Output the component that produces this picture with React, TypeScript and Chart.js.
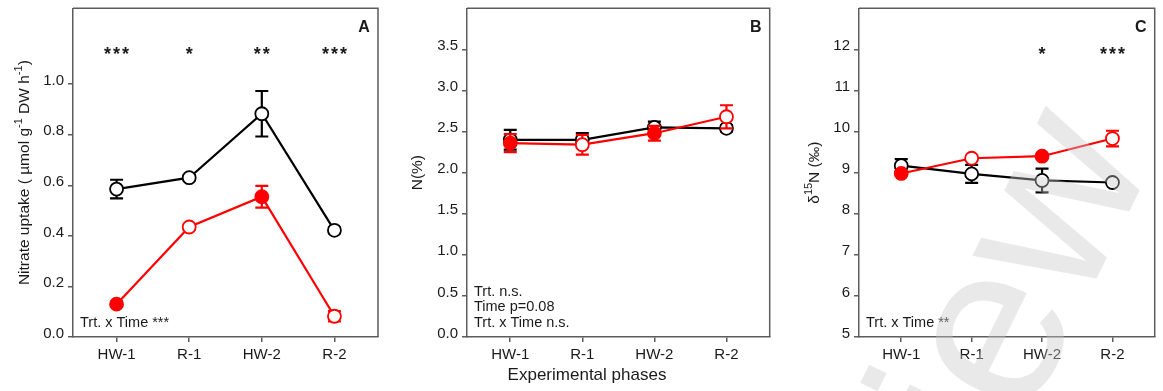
import React, { useEffect, useRef } from "react";
import { Chart, registerables } from "chart.js";

Chart.register(...registerables);

const categories = ["HW-1", "R-1", "HW-2", "R-2"];
const heatFilled = [true, false, true, false];

// Panel A: nitrate uptake
const uptakeControl = [0.585, 0.63, 0.883, 0.422];
const uptakeControlErr = [0.037, 0.01, 0.09, 0.012];
const uptakeHeat = [0.13, 0.435, 0.555, 0.082];
const uptakeHeatErr = [0.01, 0.01, 0.043, 0.02];
const uptakeStars = ["***", "*", "**", "***"];
const uptakeTicks = [0, 0.2, 0.4, 0.6, 0.8, 1.0];

// Panel B: N (%)
const nControl = [2.4, 2.4, 2.55, 2.54];
const nControlErr = [0.12, 0.08, 0.07, 0.04];
const nHeat = [2.36, 2.34, 2.48, 2.68];
const nHeatErr = [0.11, 0.12, 0.09, 0.14];
const nStars = ["", "", "", ""];
const nTicks = [0, 0.5, 1.0, 1.5, 2.0, 2.5, 3.0, 3.5];

// Panel C: delta 15N
const d15Control = [9.17, 8.97, 8.81, 8.76];
const d15ControlErr = [0.16, 0.22, 0.29, 0.04];
const d15Heat = [8.98, 9.35, 9.4, 9.83];
const d15HeatErr = [0.05, 0.06, 0.05, 0.19];
const d15Stars = ["", "", "*", "***"];
const d15Ticks = [5, 6, 7, 8, 9, 10, 11, 12];

const FONT = '"Liberation Sans", Arial, Helvetica, sans-serif';
const AXIS = "#5c5c5c";
const TEXT = "#1a1a1a";
const RED = "#ff0000";

type Part = { t: string; sup?: boolean };

type Panel = {
  left: number;
  width: number;
  yMin: number;
  yMax: number;
  yTicks: number[];
  decimals: number;
  control: number[];
  controlErr: number[];
  heat: number[];
  heatErr: number[];
  stars: string[];
  yTitle: Part[];
  titleX: number;
  axisWidth: number;
  rightPad: number;
  letter: string;
  notes: string[];
  xTitle?: string;
  watermark?: boolean;
};

const panels: Panel[] = [
  {
    left: 0, width: 388, yMin: 0, yMax: 1.3, yTicks: uptakeTicks, decimals: 1,
    control: uptakeControl, controlErr: uptakeControlErr, heat: uptakeHeat, heatErr: uptakeHeatErr,
    stars: uptakeStars,
    yTitle: [{ t: "Nitrate uptake ( µmol g" }, { t: "-1", sup: true }, { t: " DW h" }, { t: "-1", sup: true }, { t: ")" }],
    titleX: 23, axisWidth: 73, rightPad: 10, letter: "A", notes: ["Trt. x Time ***"],
  },
  {
    left: 388, width: 390, yMin: 0, yMax: 4, yTicks: nTicks, decimals: 1,
    control: nControl, controlErr: nControlErr, heat: nHeat, heatErr: nHeatErr,
    stars: nStars,
    yTitle: [{ t: "N(%)" }],
    titleX: 28, axisWidth: 79, rightPad: 7, letter: "B",
    notes: ["Trt. n.s.", "Time p=0.08", "Trt. x Time n.s."],
    xTitle: "Experimental phases",
  },
  {
    left: 778, width: 385, yMin: 5, yMax: 13, yTicks: d15Ticks, decimals: 0,
    control: d15Control, controlErr: d15ControlErr, heat: d15Heat, heatErr: d15HeatErr,
    stars: d15Stars,
    yTitle: [{ t: "δ" }, { t: "15", sup: true }, { t: "N (‰)" }],
    titleX: 35, axisWidth: 81, rightPad: 2, letter: "C", notes: ["Trt. x Time **"],
    watermark: true,
  },
];

const errorBarPlugin = {
  id: "errorBars",
  beforeDatasetDraw(chart: any, args: any) {
    const ds = chart.data.datasets[args.index];
    const errs: number[] | undefined = ds.errors;
    if (!errs) return;
    const xs = chart.scales.x;
    const ys = chart.scales.y;
    const ctx = chart.ctx;
    ctx.save();
    ctx.strokeStyle = ds.borderColor;
    ctx.lineWidth = 2.2;
    ds.data.forEach((pt: any, i: number) => {
      const px = xs.getPixelForValue(pt.x);
      const top = ys.getPixelForValue(pt.y + errs[i]);
      const bot = ys.getPixelForValue(pt.y - errs[i]);
      ctx.beginPath();
      ctx.moveTo(px, top);
      ctx.lineTo(px, bot);
      ctx.moveTo(px - 6.5, top);
      ctx.lineTo(px + 6.5, top);
      ctx.moveTo(px - 6.5, bot);
      ctx.lineTo(px + 6.5, bot);
      ctx.stroke();
    });
    ctx.restore();
  },
};

function drawRotatedTitle(ctx: CanvasRenderingContext2D, parts: Part[], cx: number, cy: number, size: number) {
  const base = `${size}px ${FONT}`;
  const small = `${Math.round(size * 0.68)}px ${FONT}`;
  ctx.save();
  ctx.translate(cx, cy);
  ctx.rotate(-Math.PI / 2);
  let total = 0;
  const widths = parts.map((p) => {
    ctx.font = p.sup ? small : base;
    const w = ctx.measureText(p.t).width;
    total += w;
    return w;
  });
  let x = -total / 2;
  const baseline = size * 0.36;
  ctx.fillStyle = TEXT;
  ctx.textBaseline = "alphabetic";
  ctx.textAlign = "left";
  parts.forEach((p, i) => {
    ctx.font = p.sup ? small : base;
    ctx.fillText(p.t, x, p.sup ? baseline - size * 0.42 : baseline);
    x += widths[i];
  });
  ctx.restore();
}

function makeDecorPlugin(p: Panel) {
  return {
    id: "decor" + p.letter,
    afterDatasetsDraw(chart: any) {
      const ctx: CanvasRenderingContext2D = chart.ctx;
      const area = chart.chartArea;
      const xs = chart.scales.x;
      ctx.save();
      // top and right frame
      ctx.strokeStyle = AXIS;
      ctx.lineWidth = 1.5;
      ctx.beginPath();
      ctx.moveTo(area.left, area.top);
      ctx.lineTo(area.right, area.top);
      ctx.lineTo(area.right, area.bottom);
      ctx.stroke();

      // significance stars
      ctx.fillStyle = TEXT;
      ctx.font = `bold 18px ${FONT}`;
      ctx.textAlign = "center";
      ctx.textBaseline = "alphabetic";
      (ctx as any).letterSpacing = "2px";
      p.stars.forEach((s, i) => {
        if (!s) return;
        ctx.fillText(s, xs.getPixelForValue(i + 1) + 1, 60);
      });
      (ctx as any).letterSpacing = "0px";

      // panel letter
      ctx.font = `bold 16px ${FONT}`;
      ctx.fillText(p.letter, area.right - 14, 32);

      // statistics notes
      ctx.font = `14.5px ${FONT}`;
      ctx.textAlign = "left";
      const n = p.notes.length;
      p.notes.forEach((line, i) => {
        ctx.fillText(line, area.left + 7, area.bottom - 10.5 - (n - 1 - i) * 15.5);
      });

      // y title
      drawRotatedTitle(ctx, p.yTitle, p.titleX, (area.top + area.bottom) / 2, 15.5);

      // x title
      if (p.xTitle) {
        ctx.fillStyle = TEXT;
        ctx.font = `17px ${FONT}`;
        ctx.textAlign = "center";
        ctx.fillText(p.xTitle, 587 - p.left, 380);
      }
      ctx.restore();
    },
    afterDraw(chart: any) {
      if (!p.watermark) return;
      const ctx: CanvasRenderingContext2D = chart.ctx;
      ctx.save();
      ctx.fillStyle = "rgba(200,200,200,0.4)";
      ctx.font = `230px ${FONT}`;
      ctx.translate(1000 - p.left, 340);
      ctx.rotate((-64 * Math.PI) / 180);
      const word = "review";
      const pre = ctx.measureText("revi").width;
      const we = ctx.measureText("e").width;
      ctx.textBaseline = "alphabetic";
      ctx.textAlign = "left";
      ctx.fillText(word, -(pre + we / 2), 230 * 0.26);
      ctx.restore();
    },
  };
}

function toPoints(vals: number[]) {
  return vals.map((v, i) => ({ x: i + 1, y: v }));
}

function buildConfig(p: Panel): any {
  const tickFont = { family: FONT, size: 15 };
  return {
    type: "line",
    data: {
      datasets: [
        {
          label: "Heat",
          data: toPoints(p.heat),
          errors: p.heatErr,
          borderColor: RED,
          borderWidth: 2.2,
          pointRadius: 6.5,
          pointHoverRadius: 6.5,
          pointBorderWidth: 1.8,
          pointBorderColor: RED,
          pointBackgroundColor: heatFilled.map((f) => (f ? RED : "#ffffff")),
          tension: 0,
        },
        {
          label: "Control",
          data: toPoints(p.control),
          errors: p.controlErr,
          borderColor: "#000000",
          borderWidth: 2.2,
          pointRadius: 6.5,
          pointHoverRadius: 6.5,
          pointBorderWidth: 1.8,
          pointBorderColor: "#000000",
          pointBackgroundColor: "#ffffff",
          tension: 0,
        },
      ],
    },
    options: {
      animation: false,
      responsive: false,
      maintainAspectRatio: false,
      events: [],
      layout: { padding: { top: 5, right: p.rightPad, left: 0, bottom: 0 } },
      plugins: { legend: { display: false }, tooltip: { enabled: false } },
      scales: {
        x: {
          type: "linear",
          min: 0.4,
          max: 4.6,
          afterBuildTicks: (s: any) => {
            s.ticks = categories.map((_, i) => ({ value: i + 1 }));
          },
          afterFit: (s: any) => {
            s.height = 54;
            s.paddingLeft = 0;
            s.paddingRight = 0;
          },
          ticks: {
            callback: (v: number) => categories[Math.round(v) - 1] ?? "",
            font: tickFont,
            color: TEXT,
            padding: 4,
            maxRotation: 0,
            autoSkip: false,
          },
          grid: { drawOnChartArea: false, drawTicks: true, tickLength: 5, color: AXIS, lineWidth: 1.5 },
          border: { display: true, color: AXIS, width: 1.5 },
        },
        y: {
          type: "linear",
          min: p.yMin,
          max: p.yMax,
          afterBuildTicks: (s: any) => {
            s.ticks = p.yTicks.map((v) => ({ value: v }));
          },
          afterFit: (s: any) => {
            s.width = p.axisWidth;
            s.paddingTop = 0;
            s.paddingBottom = 0;
          },
          ticks: {
            callback: (v: number) => Number(v).toFixed(p.decimals),
            font: tickFont,
            color: TEXT,
            padding: 4,
            labelOffset: -3.5,
            autoSkip: false,
          },
          grid: { drawOnChartArea: false, drawTicks: true, tickLength: 5, color: AXIS, lineWidth: 1.5 },
          border: { display: true, color: AXIS, width: 1.5 },
        },
      },
    },
    plugins: [errorBarPlugin, makeDecorPlugin(p)],
  };
}

function PanelChart({ p }: { p: Panel }) {
  const ref = useRef<HTMLCanvasElement | null>(null);
  useEffect(() => {
    if (!ref.current) return;
    const chart = new Chart(ref.current, buildConfig(p));
    return () => chart.destroy();
  }, [p]);
  return (
    <canvas
      ref={ref}
      width={p.width}
      height={391}
      style={{ position: "absolute", left: p.left, top: 0, width: p.width, height: 391 }}
    />
  );
}

export default function App() {
  return (
    <div style={{ position: "absolute", left: 0, top: 0, width: 1163, height: 391, background: "#ffffff" }}>
      {panels.map((p) => (
        <PanelChart key={p.letter} p={p} />
      ))}
    </div>
  );
}
